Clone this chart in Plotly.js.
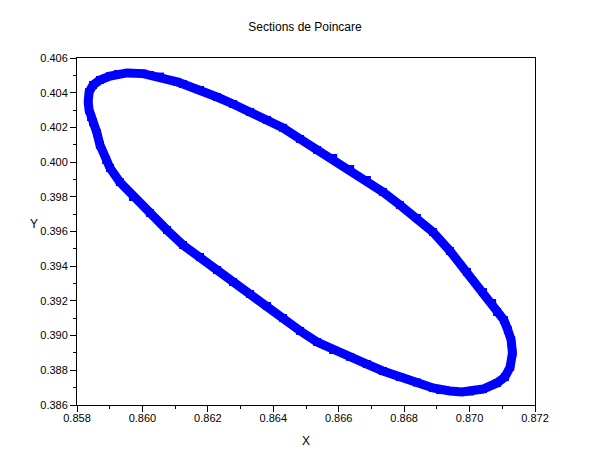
<!DOCTYPE html>
<html>
<head>
<meta charset="utf-8">
<script src="https://cdn.plot.ly/plotly-3.0.1.min.js"></script>
<style>html,body{margin:0;padding:0;background:#fff;}#chart{width:610px;height:461px;}</style>
</head>
<body>
<div id="chart"></div>
<script>
// Poincare section points
const xVals = [
  0.85834, 0.85837, 0.85849, 0.85870, 0.85901, 0.85925, 0.85953, 0.86002, 0.86023, 0.86054,
  0.86106, 0.86124, 0.86176, 0.86228, 0.86277, 0.86329, 0.86381, 0.86430, 0.86482, 0.86534,
  0.86583, 0.86635, 0.86686, 0.86735, 0.86787, 0.86839, 0.86888, 0.86940, 0.86992, 0.87041,
  0.87069, 0.87084, 0.87105, 0.87117, 0.87127, 0.87131, 0.87124, 0.87108, 0.87084, 0.87041,
  0.87001, 0.86977, 0.86940, 0.86910, 0.86888, 0.86839, 0.86787, 0.86735, 0.86686, 0.86635,
  0.86583, 0.86534, 0.86482, 0.86430, 0.86381, 0.86329, 0.86277, 0.86228, 0.86176, 0.86124,
  0.86075, 0.86023, 0.85971, 0.85931, 0.85901, 0.85889, 0.85870, 0.85861, 0.85849, 0.85843,
  0.85837, 0.85834
];
const yVals = [
  0.40346, 0.40404, 0.40444, 0.40473, 0.40496, 0.40508, 0.40514, 0.40510, 0.40502, 0.40493,
  0.40462, 0.40450, 0.40416, 0.40375, 0.40335, 0.40289, 0.40243, 0.40197, 0.40133, 0.40070,
  0.40024, 0.39960, 0.39897, 0.39828, 0.39753, 0.39678, 0.39597, 0.39488, 0.39367, 0.39251,
  0.39188, 0.39136, 0.39090, 0.39032, 0.38975, 0.38900, 0.38819, 0.38761, 0.38727, 0.38692,
  0.38678, 0.38675, 0.38681, 0.38686, 0.38698, 0.38730, 0.38761, 0.38796, 0.38836, 0.38877,
  0.38917, 0.38963, 0.39027, 0.39101, 0.39171, 0.39240, 0.39309, 0.39378, 0.39453, 0.39522,
  0.39609, 0.39707, 0.39799, 0.39885, 0.39966, 0.40012, 0.40099, 0.40168, 0.40231, 0.40260,
  0.40300, 0.40346
];
const chartTitle = "Sections de Poincare";
const xLabel = "X";
const yLabel = "Y";
const xRange = [0.858, 0.872];
const yRange = [0.386, 0.406];

const font = {family: "Liberation Sans, Arial, sans-serif", size: 11, color: "#000"};

const trace = {
  x: xVals, y: yVals, type: "scatter", mode: "lines+markers",
  line: {color: "#0000ff", width: 9},
  marker: {color: "#0000ff", symbol: "square", size: 8},
  hoverinfo: "none", showlegend: false
};

const axisCommon = {
  showline: true, linecolor: "#000", linewidth: 1, mirror: true,
  ticks: "outside", ticklen: 6, tickcolor: "#000", tickwidth: 1,
  showgrid: false, zeroline: false, tickformat: ".3f",
  tickfont: font
};

const layout = {
  width: 610, height: 461,
  margin: {l: 77, r: 75, t: 58, b: 56},
  paper_bgcolor: "#fff", plot_bgcolor: "#fff",
  font: font,
  title: {text: chartTitle, font: {family: font.family, size: 12, color: "#000"}, x: 0.5, xanchor: "center", y: 0.9414, yanchor: "middle"},
  xaxis: Object.assign({}, axisCommon, {
    range: xRange, dtick: 0.002, tick0: 0.858, ticklabelstandoff: -3,
    minor: {dtick: 0.001, ticklen: 3, tickcolor: "#000", ticks: "outside"}
  }),
  yaxis: Object.assign({}, axisCommon, {
    range: yRange, dtick: 0.002, tick0: 0.386,
    minor: {dtick: 0.001, ticklen: 3, tickcolor: "#000", ticks: "outside"}
  }),
  annotations: [{
    text: yLabel, xref: "paper", yref: "paper", x: -0.094, y: 0.5216,
    xanchor: "center", yanchor: "middle", showarrow: false,
    font: {family: font.family, size: 12, color: "#000"}
  }, {
    text: xLabel, xref: "paper", yref: "paper", x: 0.499, y: -0.1037,
    xanchor: "center", yanchor: "middle", showarrow: false,
    font: {family: font.family, size: 12, color: "#000"}
  }]
};

Plotly.newPlot("chart", [trace], layout, {displayModeBar: false, staticPlot: true});
</script>
</body>
</html>
